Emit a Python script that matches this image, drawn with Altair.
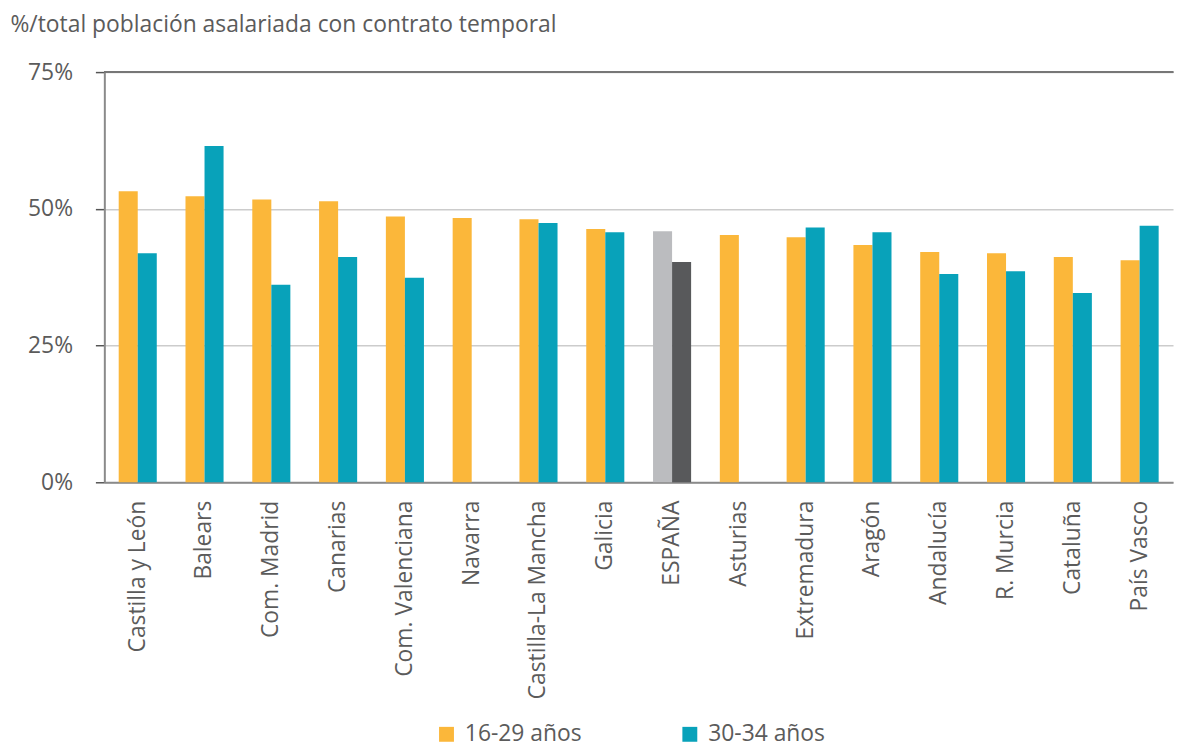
import altair as alt
import pandas as pd

regiones = ["Castilla y León", "Balears", "Com. Madrid", "Canarias", "Com. Valenciana",
            "Navarra", "Castilla-La Mancha", "Galicia", "ESPAÑA", "Asturias",
            "Extremadura", "Aragón", "Andalucía", "R. Murcia", "Cataluña", "País Vasco"]
jovenes_16_29 = [53.2, 52.3, 51.7, 51.4, 48.6, 48.3, 48.1, 46.3, 45.9, 45.2,
                 44.8, 43.4, 42.1, 41.9, 41.2, 40.6]
jovenes_30_34 = [41.9, 61.5, 36.1, 41.2, 37.4, None, 47.4, 45.7, 40.3, None,
                 46.6, 45.7, 38.1, 38.6, 34.6, 46.9]
series = ["16-29 años", "30-34 años"]
y_ticks = [0, 25, 50, 75]

rows = []
for reg, a, b in zip(regiones, jovenes_16_29, jovenes_30_34):
    for s, v in zip(series, [a, b]):
        if v is None:
            continue
        key = s if reg != "ESPAÑA" else "ESPAÑA " + s
        rows.append({"region": reg, "serie": s, "key": key, "valor": v})
df = pd.DataFrame(rows)

FONT = "Open Sans"
TXT = "#5b5b5b"
FS = 23

color_domain = ["16-29 años", "30-34 años", "ESPAÑA 16-29 años", "ESPAÑA 30-34 años"]
color_range = ["#FBB73A", "#08A2BA", "#BBBCBF", "#58595B"]

bars = alt.Chart(df).mark_bar().encode(
    x=alt.X("region:N", sort=regiones,
            scale=alt.Scale(paddingInner=0.43, paddingOuter=0.215),
            axis=alt.Axis(title=None, labelAngle=-90, ticks=False, labelPadding=18,
                          labelFontSize=FS, labelFont=FONT, labelColor=TXT, labelLimit=400,
                          domainColor="#8a8a8a", domainWidth=2, grid=False)),
    xOffset=alt.XOffset("serie:N", sort=series, scale=alt.Scale(paddingInner=0, paddingOuter=0)),
    y=alt.Y("valor:Q", scale=alt.Scale(domain=[0, 75], nice=False),
            axis=alt.Axis(values=y_ticks, labelExpr="datum.value + '%'",
                          title="%/total población asalariada con contrato temporal",
                          titleAngle=0, titleX=-95, titleY=-41, titleAlign="left",
                          titleBaseline="alphabetic", titleFontSize=FS, titleFont=FONT,
                          titleFontWeight="normal", titleColor=TXT,
                          labelFontSize=FS, labelFont=FONT, labelColor=TXT, labelPadding=23,
                          tickSize=9, tickColor="#555555", tickWidth=1.5,
                          domainColor="#8a8a8a", domainWidth=2,
                          grid=True, gridColor="#cccccc", gridWidth=1.5)),
    color=alt.Color("key:N", scale=alt.Scale(domain=color_domain, range=color_range),
                    legend=alt.Legend(title=None, values=series, orient="none",
                                      legendX=333, legendY=655, direction="horizontal",
                                      symbolType="square", symbolSize=225,
                                      symbolStrokeWidth=0, labelFontSize=FS,
                                      labelFont=FONT, labelColor=TXT, labelOffset=7,
                                      columnPadding=97)),
)

top = alt.Chart(df).mark_rule(color="#777777", strokeWidth=2).encode(
    y=alt.datum(75)
)

chart = alt.layer(bars, top).properties(
    width=1076, height=413,
    autosize=alt.AutoSizeParams(type="none"),
    padding={"left": 97, "top": 62, "right": 3, "bottom": 265},
).configure_view(stroke=None)

chart.save("out.html", embed_options={"renderer": "svg", "actions": False})
